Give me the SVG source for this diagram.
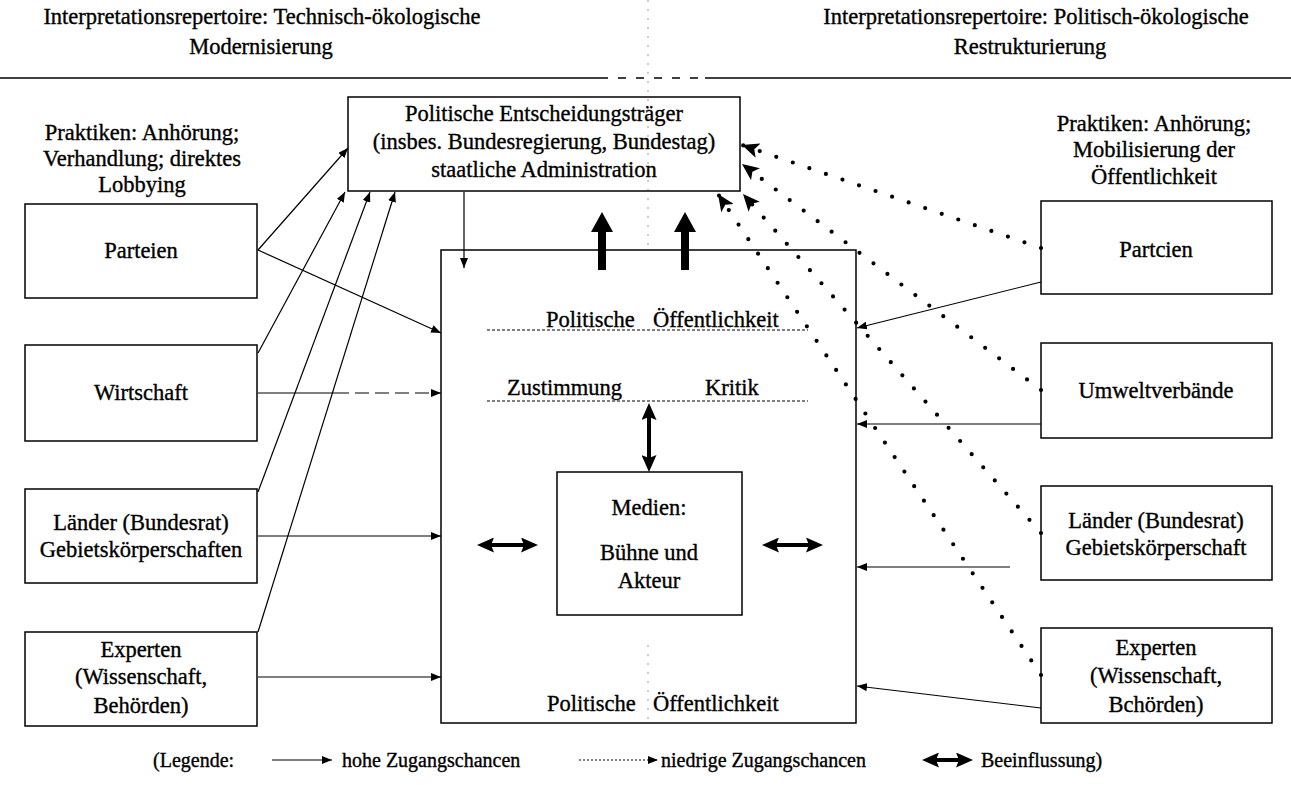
<svg xmlns="http://www.w3.org/2000/svg" width="1291" height="785" viewBox="0 0 1291 785">
<style>
.t{font-family:"Liberation Serif","Times New Roman",serif;font-size:22.5px;fill:#000;stroke:#000;stroke-width:0.35}
.c{text-anchor:middle}
.lg{font-size:20px}
.box{fill:none;stroke:#000;stroke-width:1.5}
.ln{stroke:#000;stroke-width:1.2;fill:none}
.dash{stroke:#000;stroke-width:1;stroke-dasharray:3 2;fill:none}
.dot{stroke:#000;stroke-width:4.2;stroke-linecap:round;stroke-dasharray:0 17.5;fill:none}
.thick{stroke:#000;stroke-width:4;fill:none}
.fold{stroke:#999;stroke-width:1;stroke-dasharray:2 7;fill:none}
</style>
<defs>
<marker id="ah" viewBox="0 0 10 8" refX="10" refY="4" markerWidth="10" markerHeight="8" markerUnits="userSpaceOnUse" orient="auto"><path d="M0,0 L10,4 L0,8 z" fill="#000"/></marker>
<marker id="ahd" viewBox="0 0 17 15" refX="17" refY="7.5" markerWidth="17" markerHeight="15" markerUnits="userSpaceOnUse" orient="auto"><path d="M0,0 L17,7.5 L0,15 L4,7.5 z" fill="#000"/></marker>
<marker id="ahb" viewBox="0 0 17 15" refX="6" refY="7.5" markerWidth="17" markerHeight="15" markerUnits="userSpaceOnUse" orient="auto-start-reverse"><path d="M0,0 L17,7.5 L0,15 L3,7.5 z" fill="#000"/></marker>
</defs>
<rect width="1291" height="785" fill="#fff"/>

<g id="header">
<line class="fold" x1="648" y1="0" x2="648" y2="245"/>
<line class="fold" x1="648" y1="645" x2="648" y2="723"/>
<text class="t c" x="262" y="24">Interpretationsrepertoire: Technisch-ökologische</text>
<text class="t c" x="261" y="54">Modernisierung</text>
<text class="t c" x="1036" y="24">Interpretationsrepertoire: Politisch-ökologische</text>
<text class="t c" x="1030" y="54">Restrukturierung</text>
<line x1="0" y1="78" x2="600" y2="78" stroke="#000" stroke-width="1.5"/>
<line x1="600" y1="78" x2="705" y2="78" stroke="#000" stroke-width="1.5" stroke-dasharray="8 10"/>
<line x1="705" y1="78" x2="1291" y2="78" stroke="#000" stroke-width="1.5"/>
</g>

<g id="praktiken-links">
<text class="t c" x="142" y="140">Praktiken: Anhörung;</text>
<text class="t c" x="142" y="166">Verhandlung; direktes</text>
<text class="t c" x="142" y="192">Lobbying</text>
</g>
<g id="praktiken-rechts">
<text class="t c" x="1154" y="131">Praktiken: Anhörung;</text>
<text class="t c" x="1154" y="157">Mobilisierung der</text>
<text class="t c" x="1154" y="184">Öffentlichkeit</text>
</g>

<g id="entscheidungstraeger">
<rect class="box" x="348" y="97" width="392" height="94"/>
<text class="t c" x="544" y="121">Politische Entscheidungsträger</text>
<text class="t c" x="544" y="149">(insbes. Bundesregierung, Bundestag)</text>
<text class="t c" x="544" y="177">staatliche Administration</text>
</g>

<g id="oeffentlichkeit">
<rect class="box" x="441" y="250" width="415" height="473"/>
<text class="t" x="546" y="327">Politische</text>
<text class="t" x="653" y="327">Öffentlichkeit</text>
<line class="dash" x1="487" y1="330" x2="808" y2="330"/>
<text class="t" x="507" y="395">Zustimmung</text>
<text class="t" x="705" y="395">Kritik</text>
<line class="dash" x1="487" y1="401" x2="808" y2="401"/>
<text class="t" x="547" y="711">Politische</text>
<text class="t" x="653" y="711">Öffentlichkeit</text>
</g>

<g id="medien">
<rect class="box" x="557" y="472" width="185" height="143"/>
<text class="t c" x="649" y="515">Medien:</text>
<text class="t c" x="649" y="560">Bühne und</text>
<text class="t c" x="649" y="588">Akteur</text>
</g>

<g id="l-parteien">
<rect class="box" x="25" y="204" width="232" height="94"/>
<text class="t c" x="141" y="258">Parteien</text>
</g>
<g id="l-wirtschaft">
<rect class="box" x="25" y="345" width="232" height="96"/>
<text class="t c" x="141" y="400">Wirtschaft</text>
</g>
<g id="l-laender">
<rect class="box" x="25" y="489" width="232" height="94"/>
<text class="t c" x="141" y="530">Länder (Bundesrat)</text>
<text class="t c" x="141" y="557">Gebietskörperschaften</text>
</g>
<g id="l-experten">
<rect class="box" x="25" y="632" width="232" height="94"/>
<text class="t c" x="141" y="657">Experten</text>
<text class="t c" x="141" y="684">(Wissenschaft,</text>
<text class="t c" x="141" y="713">Behörden)</text>
</g>

<g id="r-parteien">
<rect class="box" x="1041" y="201" width="231" height="93"/>
<text class="t c" x="1156" y="257">Partcien</text>
</g>
<g id="r-umwelt">
<rect class="box" x="1041" y="343" width="231" height="95"/>
<text class="t c" x="1156" y="398">Umweltverbände</text>
</g>
<g id="r-laender">
<rect class="box" x="1041" y="486" width="231" height="94"/>
<text class="t c" x="1156" y="528">Länder (Bundesrat)</text>
<text class="t c" x="1156" y="555">Gebietskörperschaft</text>
</g>
<g id="r-experten">
<rect class="box" x="1041" y="628" width="231" height="95"/>
<text class="t c" x="1156" y="655">Experten</text>
<text class="t c" x="1156" y="683">(Wissenschaft,</text>
<text class="t c" x="1156" y="712">Bchörden)</text>
</g>

<g id="connectors">
<line class="ln" x1="258" y1="250" x2="348" y2="148" marker-end="url(#ah)"/>
<line class="ln" x1="258" y1="353" x2="345" y2="192" marker-end="url(#ah)"/>
<line class="ln" x1="258" y1="492" x2="370" y2="192" marker-end="url(#ah)"/>
<line class="ln" x1="258" y1="632" x2="395" y2="192" marker-end="url(#ah)"/>
<line class="ln" x1="258" y1="250" x2="441" y2="333" marker-end="url(#ah)"/>
<line class="ln" x1="258" y1="393" x2="335" y2="393"/>
<line class="ln" x1="335" y1="393" x2="441" y2="393" stroke-dasharray="14 6" marker-end="url(#ah)"/>
<line class="ln" x1="258" y1="536" x2="441" y2="536" marker-end="url(#ah)"/>
<line class="ln" x1="258" y1="677" x2="441" y2="677" marker-end="url(#ah)"/>
<line class="ln" x1="464" y1="192" x2="464" y2="268" marker-end="url(#ah)"/>
<path d="M598,270 L598,232 L591,232 L602,212 L613,232 L606,232 L606,270 Z" fill="#000"/>
<path d="M681,270 L681,232 L674,232 L685,212 L696,232 L689,232 L689,270 Z" fill="#000"/>
<line class="ln" x1="1041" y1="282" x2="857" y2="328" marker-end="url(#ah)"/>
<line class="ln" x1="1041" y1="424" x2="857" y2="424" marker-end="url(#ah)"/>
<line class="ln" x1="1010" y1="567" x2="857" y2="567" marker-end="url(#ah)"/>
<line class="ln" x1="1041" y1="708" x2="857" y2="686" marker-end="url(#ah)"/>
<line class="dot" x1="1041" y1="248" x2="742" y2="145" marker-end="url(#ahd)"/>
<line class="dot" x1="1041" y1="390" x2="742" y2="164" marker-end="url(#ahd)"/>
<line class="dot" x1="1041" y1="533" x2="743" y2="194" marker-end="url(#ahd)"/>
<line class="dot" x1="1041" y1="675" x2="718" y2="194" marker-end="url(#ahd)"/>
<line class="thick" x1="649" y1="414" x2="649" y2="461" marker-start="url(#ahb)" marker-end="url(#ahb)"/>
<line class="thick" x1="488" y1="545" x2="527" y2="545" marker-start="url(#ahb)" marker-end="url(#ahb)"/>
<line class="thick" x1="773" y1="545" x2="812" y2="545" marker-start="url(#ahb)" marker-end="url(#ahb)"/>
</g>

<g id="legende">
<text class="t lg" x="153" y="767">(Legende:</text>
<line class="ln" x1="272" y1="760" x2="332" y2="760" marker-end="url(#ah)"/>
<text class="t lg" x="342" y="767">hohe Zugangschancen</text>
<line class="ln" x1="579" y1="760" x2="658" y2="760" stroke-dasharray="2 2" marker-end="url(#ah)"/>
<text class="t lg" x="661" y="767">niedrige Zugangschancen</text>
<line class="thick" x1="933" y1="760" x2="962" y2="760" marker-start="url(#ahb)" marker-end="url(#ahb)"/>
<text class="t lg" x="981" y="767">Beeinflussung)</text>
</g>
</svg>
